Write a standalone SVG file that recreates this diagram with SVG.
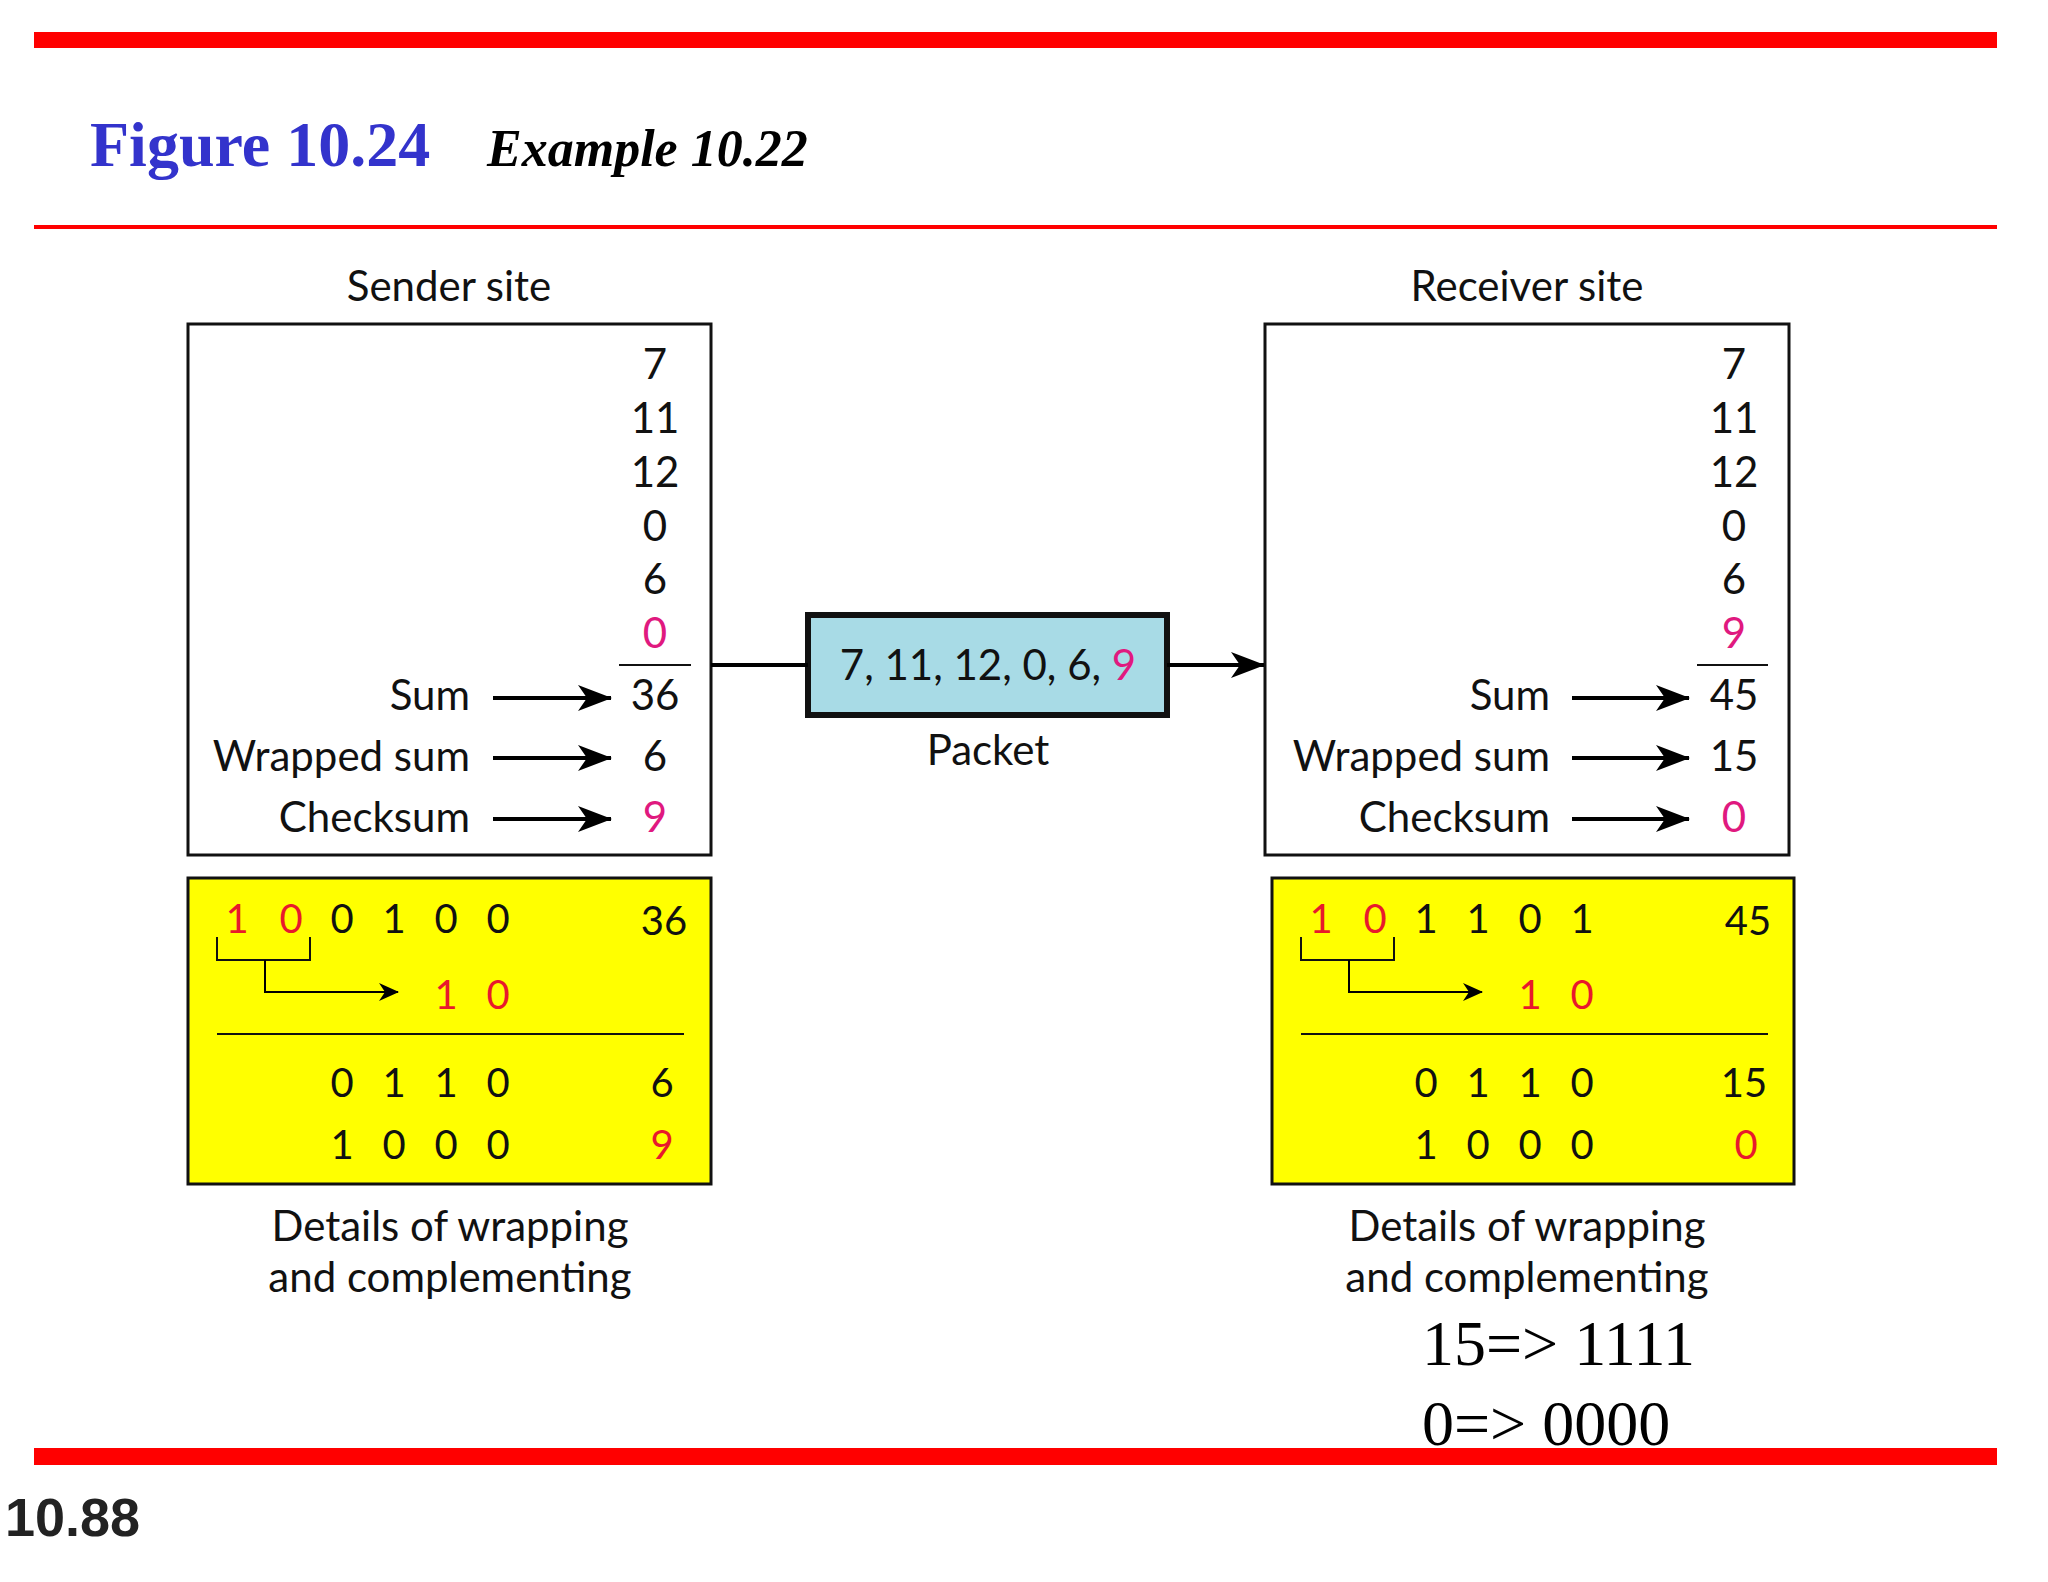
<svg xmlns="http://www.w3.org/2000/svg" width="2048" height="1582" viewBox="0 0 2048 1582">
<style>
.t{font-family:Lato,"Open Sans",sans-serif;font-size:42px;fill:#111}
.n{font-family:Lato,"Open Sans",sans-serif;font-size:42px;fill:#111;text-anchor:middle}
.d{font-family:Lato,"Open Sans",sans-serif;font-size:40px;fill:#111;text-anchor:middle}
.m{fill:#e0197f}
.r{fill:#e8192c}
.e{text-anchor:end}
.c{text-anchor:middle}
.tm{font-family:"Liberation Serif",serif;font-size:64px;fill:#000}
</style>
<defs>
<marker id="a" markerWidth="10" markerHeight="8" refX="9" refY="4" orient="auto" markerUnits="userSpaceOnUse" viewBox="0 0 10 8"><path d="M0,0 L10,4 L0,8 L3,4 Z" fill="#000"/></marker>
<marker id="b" markerWidth="34" markerHeight="26" refX="33" refY="13" orient="auto" markerUnits="userSpaceOnUse" viewBox="0 0 34 26"><path d="M0,0 L34,13 L0,26 L9,13 Z" fill="#000"/></marker>
<marker id="s" markerWidth="20" markerHeight="18" refX="19" refY="9" orient="auto" markerUnits="userSpaceOnUse" viewBox="0 0 20 18"><path d="M0,0 L20,9 L0,18 L6,9 Z" fill="#000"/></marker>
</defs>
<rect x="34" y="32" width="1963" height="16" fill="#ff0000"/>
<rect x="34" y="225" width="1963" height="4" fill="#ff0000"/>
<rect x="34" y="1448" width="1963" height="17" fill="#ff0000"/>
<text x="90" y="166" font-family="Liberation Serif,serif" font-weight="bold" font-size="64" fill="#3333cc">Figure 10.24</text>
<text x="487" y="166" font-family="Liberation Serif,serif" font-weight="bold" font-style="italic" font-size="52" fill="#000">Example 10.22</text>
<text x="5" y="1536" font-family="Liberation Sans,sans-serif" font-weight="bold" font-size="54" fill="#222">10.88</text>

<g id="sender">
<text class="t c" x="449" y="301">Sender site</text>
<rect x="188" y="324" width="523" height="531" fill="#fff" stroke="#111" stroke-width="3"/>
<text class="n" x="655" y="379">7</text>
<text class="n" x="655" y="433">11</text>
<text class="n" x="655" y="487">12</text>
<text class="n" x="655" y="541">0</text>
<text class="n" x="655" y="594">6</text>
<text class="n m" x="655" y="648">0</text>
<line x1="619" y1="665" x2="691" y2="665" stroke="#111" stroke-width="2"/>
<text class="t e" x="470" y="710">Sum</text>
<text class="t e" x="470" y="771">Wrapped sum</text>
<text class="t e" x="470" y="832">Checksum</text>
<text class="n" x="655" y="710">36</text>
<text class="n" x="655" y="771">6</text>
<text class="n m" x="655" y="832">9</text>
</g>
<g id="sender-details">
<rect x="188" y="878" width="523" height="306" fill="#ffff00" stroke="#111" stroke-width="3"/>
<text class="d r" x="237" y="933">1</text><text class="d r" x="291" y="933">0</text>
<text class="d" x="342" y="933">0</text><text class="d" x="394" y="933">1</text><text class="d" x="446" y="933">0</text><text class="d" x="498" y="933">0</text>
<text class="d" x="664" y="935">36</text>
<text class="d r" x="446" y="1009">1</text><text class="d r" x="498" y="1009">0</text>
<line x1="217" y1="1034" x2="684" y2="1034" stroke="#111" stroke-width="2"/>
<text class="d" x="342" y="1097">0</text><text class="d" x="394" y="1097">1</text><text class="d" x="446" y="1097">1</text><text class="d" x="498" y="1097">0</text>
<text class="d" x="662" y="1097">6</text>
<text class="d" x="342" y="1159">1</text><text class="d" x="394" y="1159">0</text><text class="d" x="446" y="1159">0</text><text class="d" x="498" y="1159">0</text>
<text class="d r" x="662" y="1159">9</text>
<path d="M217,937 V960 H310 V937" fill="none" stroke="#111" stroke-width="2"/>
<text class="t c" x="450" y="1241">Details of wrapping</text>
<text class="t c" x="450" y="1292">and complementing</text>
</g>

<g id="packet">
<rect x="808" y="615" width="359" height="100" fill="#a8dbe6" stroke="#111" stroke-width="6"/>
<text class="t c" x="988" y="680">7, 11, 12, 0, 6, <tspan class="m">9</tspan></text>
<text class="t c" x="988" y="765">Packet</text>
</g>

<g id="receiver">
<text class="t c" x="1527" y="301">Receiver site</text>
<rect x="1265" y="324" width="524" height="531" fill="#fff" stroke="#111" stroke-width="3"/>
<text class="n" x="1734" y="379">7</text>
<text class="n" x="1734" y="433">11</text>
<text class="n" x="1734" y="487">12</text>
<text class="n" x="1734" y="541">0</text>
<text class="n" x="1734" y="594">6</text>
<text class="n m" x="1734" y="648">9</text>
<line x1="1697" y1="665" x2="1768" y2="665" stroke="#111" stroke-width="2"/>
<text class="t e" x="1550" y="710">Sum</text>
<text class="t e" x="1550" y="771">Wrapped sum</text>
<text class="t e" x="1550" y="832">Checksum</text>
<text class="n" x="1734" y="710">45</text>
<text class="n" x="1734" y="771">15</text>
<text class="n m" x="1734" y="832">0</text>
</g>
<g id="receiver-details">
<rect x="1272" y="878" width="522" height="306" fill="#ffff00" stroke="#111" stroke-width="3"/>
<text class="d r" x="1321" y="933">1</text><text class="d r" x="1375" y="933">0</text>
<text class="d" x="1426" y="933">1</text><text class="d" x="1478" y="933">1</text><text class="d" x="1530" y="933">0</text><text class="d" x="1582" y="933">1</text>
<text class="d" x="1748" y="935">45</text>
<text class="d r" x="1530" y="1009">1</text><text class="d r" x="1582" y="1009">0</text>
<line x1="1301" y1="1034" x2="1768" y2="1034" stroke="#111" stroke-width="2"/>
<text class="d" x="1426" y="1097">0</text><text class="d" x="1478" y="1097">1</text><text class="d" x="1530" y="1097">1</text><text class="d" x="1582" y="1097">0</text>
<text class="d" x="1744" y="1097">15</text>
<text class="d" x="1426" y="1159">1</text><text class="d" x="1478" y="1159">0</text><text class="d" x="1530" y="1159">0</text><text class="d" x="1582" y="1159">0</text>
<text class="d r" x="1746" y="1159">0</text>
<path d="M1301,937 V960 H1394 V937" fill="none" stroke="#111" stroke-width="2"/>
<text class="t c" x="1527" y="1241">Details of wrapping</text>
<text class="t c" x="1527" y="1292">and complementing</text>
<text class="tm" x="1422" y="1365">15=&gt; 1111</text>
<text class="tm" x="1422" y="1445">0=&gt; 0000</text>
</g>

<g id="connectors" fill="none" stroke="#000">
<line x1="493" y1="698" x2="611" y2="698" stroke-width="4" marker-end="url(#b)"/>
<line x1="493" y1="758" x2="611" y2="758" stroke-width="4" marker-end="url(#b)"/>
<line x1="493" y1="819" x2="611" y2="819" stroke-width="4" marker-end="url(#b)"/>
<line x1="1572" y1="698" x2="1689" y2="698" stroke-width="4" marker-end="url(#b)"/>
<line x1="1572" y1="758" x2="1689" y2="758" stroke-width="4" marker-end="url(#b)"/>
<line x1="1572" y1="819" x2="1689" y2="819" stroke-width="4" marker-end="url(#b)"/>
<line x1="711" y1="665" x2="808" y2="665" stroke-width="4"/>
<line x1="1167" y1="665" x2="1264" y2="665" stroke-width="4" marker-end="url(#b)"/>
<path d="M265,960 V992 H398" stroke-width="2" marker-end="url(#s)"/>
<path d="M1349,960 V992 H1482" stroke-width="2" marker-end="url(#s)"/>
</g>
</svg>
